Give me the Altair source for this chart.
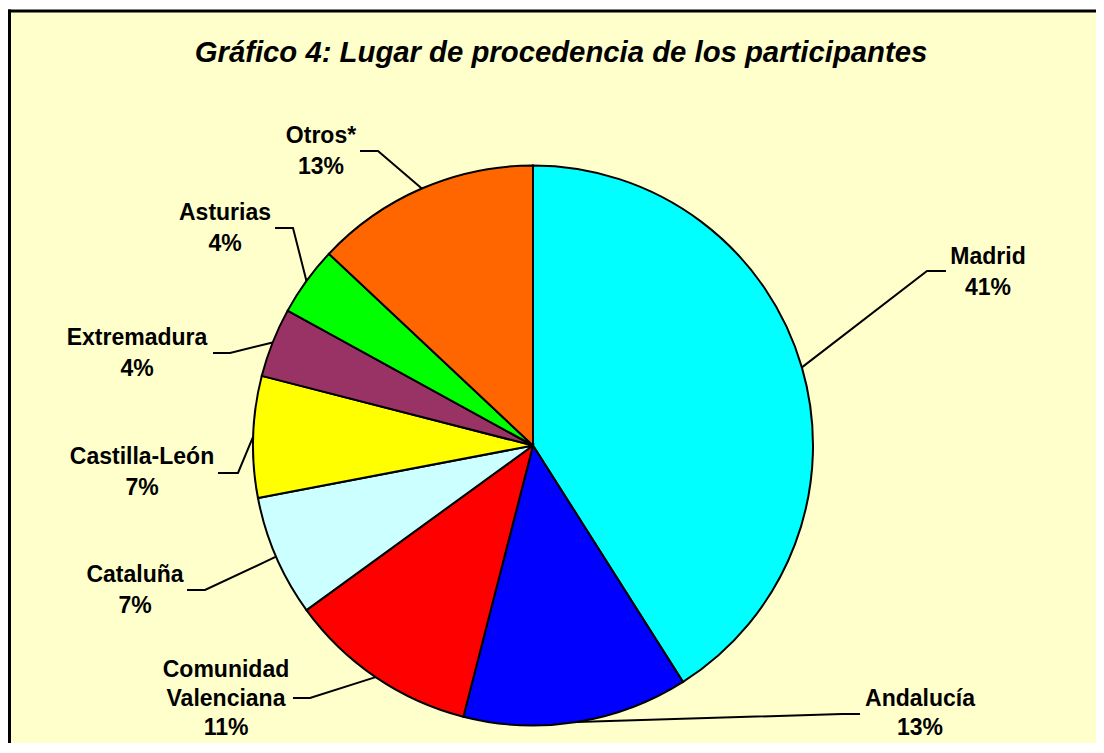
import math
import altair as alt
import pandas as pd

# ---- data ----
regions = ["Madrid", "Andalucía", "Comunidad Valenciana", "Cataluña",
           "Castilla-León", "Extremadura", "Asturias", "Otros*"]
percents = [41, 13, 11, 7, 7, 4, 4, 13]
label_names = ["Madrid", "Andalucía", "Comunidad\nValenciana", "Cataluña",
               "Castilla-León", "Extremadura", "Asturias", "Otros*"]
colors = ["#00FFFF", "#0000FF", "#FF0000", "#CCFFFF",
          "#FFFF00", "#993366", "#00FF00", "#FF6600"]
title_text = "Gráfico 4: Lugar de procedencia de los participantes"

# ---- layout (view pixel coordinates) ----
W, H = 1088, 732
OX, OY = 8, 11           # page offset of the view
CX, CY, R = 533 - OX, 445.5 - OY, 280
FONT = "Liberation Sans"

# label placement: text centre x, first baseline y, line height, leader elbow, leader end (page coords)
label_layout = {
    "Madrid": (988, 264, 31, (927, 271), (946, 271)),
    "Andalucía": (920, 706, 29, (842, 714), (860, 714)),
    "Comunidad Valenciana": (226, 677, 29, (310, 698), (293, 698)),
    "Cataluña": (135, 582, 31, (205, 590), (187, 590)),
    "Castilla-León": (142, 464, 31, (238, 473), (218, 473)),
    "Extremadura": (137, 345, 31, (230, 353), (213, 353)),
    "Asturias": (225, 220, 31, (293, 228), (275, 228)),
    "Otros*": (321, 143, 31, (378, 151), (360, 151)),
}

pie_df = pd.DataFrame({"region": regions, "pct": percents, "idx": range(len(regions))})

total = sum(percents)
text_rows, line_rows = [], []
cum = 0
for reg, p, nm in zip(regions, percents, label_names):
    mid = (cum + p / 2) / total * 2 * math.pi
    cum += p
    sx, sy = CX + R * math.sin(mid), CY - R * math.cos(mid)
    tx, ty, lh, elbow, end = label_layout[reg]
    text_rows.append({"region": reg, "label": f"{nm}\n{p}%", "x": tx - OX, "y": ty - OY, "lh": lh})
    line_rows.append({"region": reg, "seq": 0, "x": sx, "y": sy})
    line_rows.append({"region": reg, "seq": 1, "x": elbow[0] - OX, "y": elbow[1] - OY})
    line_rows.append({"region": reg, "seq": 2, "x": end[0] - OX, "y": end[1] - OY})

text_df = pd.DataFrame(text_rows)
line_df = pd.DataFrame(line_rows)

xs = alt.Scale(domain=[0, W], range=[0, W], nice=False, zero=False)
ys = alt.Scale(domain=[0, H], range=[0, H], nice=False, zero=False)

one = pd.DataFrame({"k": [0]})

frame_left = alt.Chart(one).mark_rule(color="black", strokeWidth=3).encode(
    x=alt.value(1.5), y=alt.value(-1.5), y2=alt.value(H))
frame_top = alt.Chart(one).mark_rule(color="black", strokeWidth=3).encode(
    x=alt.value(0), x2=alt.value(W), y=alt.value(0))

pie = alt.Chart(pie_df).mark_arc(stroke="black", strokeWidth=2).encode(
    theta=alt.Theta("pct:Q", stack=True),
    color=alt.Color("region:N", scale=alt.Scale(domain=regions, range=colors), legend=None),
    order=alt.Order("idx:Q", sort="ascending"),
    x=alt.value(CX), y=alt.value(CY), radius=alt.value(R),
)

leaders = alt.Chart(line_df).mark_line(color="black", strokeWidth=2).encode(
    x=alt.X("x:Q", scale=xs, axis=None),
    y=alt.Y("y:Q", scale=ys, axis=None),
    detail="region:N",
    order="seq:Q",
)

def label_layer(lh):
    return alt.Chart(text_df).transform_filter(alt.datum.lh == lh).mark_text(
        font=FONT, fontSize=23, fontWeight="bold", color="black",
        align="center", baseline="alphabetic", lineBreak="\n", lineHeight=lh,
    ).encode(
        x=alt.X("x:Q", scale=xs, axis=None),
        y=alt.Y("y:Q", scale=ys, axis=None),
        text="label:N",
    )

title = alt.Chart(pd.DataFrame({"t": [title_text]})).mark_text(
    font=FONT, fontSize=29.3, fontWeight="bold", fontStyle="italic", color="black",
    align="center", baseline="alphabetic",
).encode(text="t:N", x=alt.value(561 - OX), y=alt.value(62 - OY))

chart = alt.layer(frame_left, frame_top, pie, leaders, label_layer(31), label_layer(29), title).properties(
    width=W, height=H,
    padding={"left": 0, "top": 3, "right": 0, "bottom": 0},
    autosize=alt.AutoSizeParams(type="none"),
    background="white",
).configure_view(stroke=None, fill="#FFFFCC")

chart.save("out.html", embed_options={"renderer": "svg", "actions": False})
